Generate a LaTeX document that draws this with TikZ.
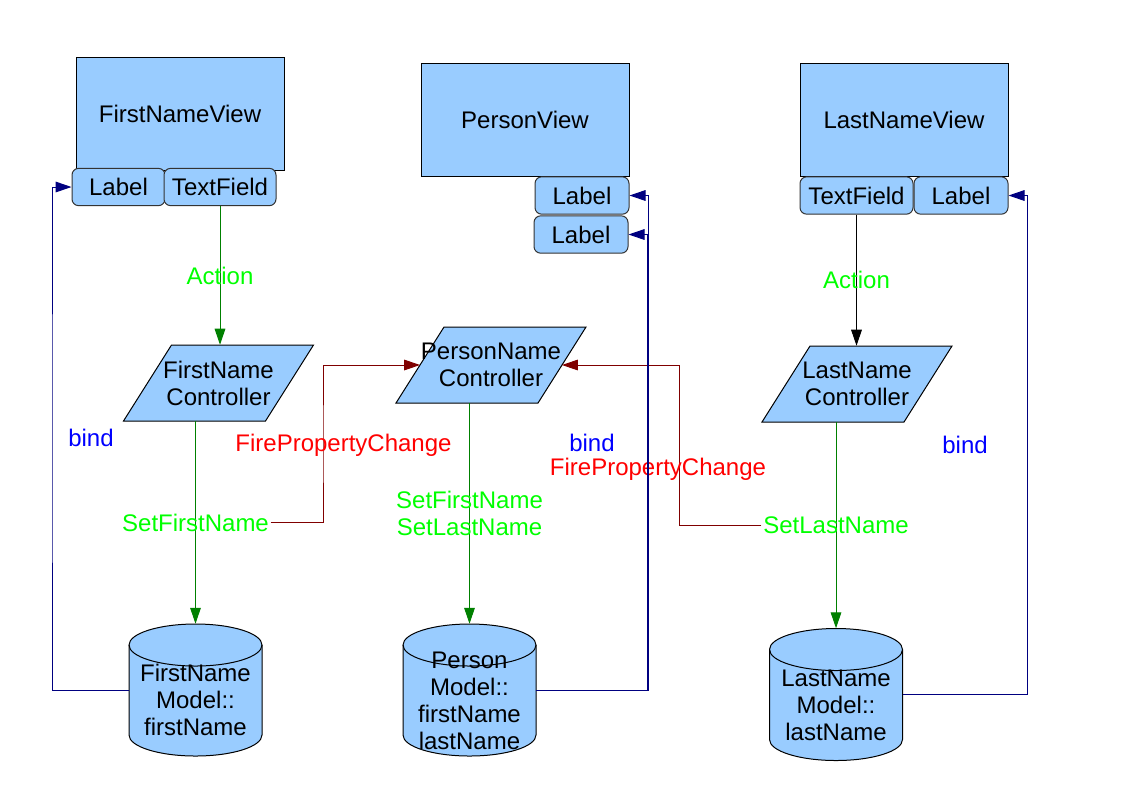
\documentclass[tikz,border=0pt]{standalone}
\usepackage{fontspec}
\setmainfont{Liberation Sans}
\usetikzlibrary{arrows.meta}
\definecolor{boxfill}{RGB}{153,204,255}
\definecolor{dgreen}{RGB}{0,128,0}
\definecolor{lgreen}{RGB}{0,255,0}
\definecolor{navyline}{RGB}{0,0,128}
\definecolor{dred}{RGB}{128,0,0}
\definecolor{bred}{RGB}{255,0,0}
\definecolor{bblue}{RGB}{0,0,255}
\newcommand{\ctlshape}[4]{%
  \filldraw[shp] (#2-95,#3+38) -- (#2+47,#3+38) -- (#2+95,#3-38) -- (#2-47,#3-38) -- cycle;
  \node[ctltext] (#1) at (#2,#3) {#4};
}
\newcommand{\cylshape}[3]{%
  \filldraw[shp] (#2-66.5,#3-45) -- (#2-66.5,#3+45)
    arc[start angle=180,end angle=360,x radius=49.875pt,y radius=15.75pt]
    -- (#2+66.5,#3-45)
    arc[start angle=0,end angle=180,x radius=49.875pt,y radius=15.75pt] -- cycle;
  \draw[shp,fill=none] (#2-66.5,#3-45)
    arc[start angle=180,end angle=360,x radius=49.875pt,y radius=15.75pt];
  \node[cylbox] (#1) at (#2,#3) {};
}
\begin{document}
\begin{tikzpicture}[x=0.75pt,y=-0.75pt,
  font=\fontsize{18}{20.25}\selectfont,
  viewbox/.style={draw=black, fill=boxfill, line width=0.75pt, minimum width=156pt, minimum height=84.75pt, inner sep=0},
  widget/.style={draw=black!80, fill=boxfill, rounded corners=5pt, line width=0.75pt, minimum height=28pt, inner sep=0},
  shp/.style={draw=black, fill=boxfill, line width=0.75pt},
  ctltext/.style={minimum width=106pt, minimum height=57pt, inner sep=0, align=center},
  cylbox/.style={minimum width=99.75pt, minimum height=99pt, inner sep=0},
  cyltext/.style={align=center, inner sep=0},
  conn/.style={line width=0.75pt, -{Triangle[length=12pt,width=8pt]}},
  plain/.style={line width=0.75pt},
  glabel/.style={text=lgreen, inner sep=1pt, align=center},
  rlabel/.style={text=bred, inner sep=1pt},
  blabel/.style={text=bblue, inner sep=1pt}
]
\useasboundingbox[fill=white] (0,0) rectangle (1123,794);

% views
\node[viewbox] (v1) at (180,113.5) {FirstNameView};
\node[viewbox] (v2) at (525,119.5) {PersonView};
\node[viewbox] (v3) at (904,119.5) {LastNameView};

% widgets
\node[widget, minimum width=69.75pt] (w1) at (118.5,187) {Label};
\node[widget, minimum width=84pt] (w2) at (220,187) {TextField};
\node[widget, minimum width=70.5pt] (p1) at (582,195.5) {Label};
\node[widget, minimum width=70.5pt] (p2) at (581,234.5) {Label};
\node[widget, minimum width=84.75pt] (w3) at (856.5,195.5) {TextField};
\node[widget, minimum width=70.5pt] (w4) at (961,195.5) {Label};

% controllers
\ctlshape{c1}{218.5}{383}{FirstName\\Controller}
\ctlshape{c2}{491}{365}{PersonName\\Controller}
\ctlshape{c3}{857}{384}{LastName\\Controller}

% models
\cylshape{m1}{195.5}{690}
\cylshape{m2}{469.5}{690}
\cylshape{m3}{836}{694.5}
\node[cyltext] (m1t) at (195.5,700) {FirstName\\Model::\\firstName};
\node[cyltext] (m2t) at (469.5,700.5) {Person\\Model::\\firstName\\lastName};
\node[cyltext] (m3t) at (836,705) {LastName\\Model::\\lastName};

% actions
\draw[conn, dgreen] (w2.south) -- (w2.south |- c1.north) node[midway, glabel] (a1) {Action};
\draw[conn, black] (w3.south) -- (w3.south |- c3.north) node[midway, glabel] (a2) {Action};

% setters
\draw[conn, dgreen] (m1.north |- c1.south) -- (m1.north) node[midway, glabel] (s1) {SetFirstName};
\draw[conn, dgreen] (m2.north |- c2.south) -- (m2.north) node[midway, glabel] (s2) {SetFirstName\\SetLastName};
\draw[conn, dgreen] (m3.north |- c3.south) -- (m3.north) node[midway, glabel] (s3) {SetLastName};

% fire property change
\coordinate (j1) at (323,444);
\coordinate (j2) at (679,442);
\draw[conn, dred] (s1.east) -| (j1) |- (c2.west);
\draw[conn, dred] (s3.west) -| (j2) |- (c2.east);
\node[rlabel] (f1) at (343.5,445) {FirePropertyChange};
\node[rlabel] (f2) at (658,469) {FirePropertyChange};

% binds
\coordinate (k1) at (52,438);
\coordinate (k2) at (648.5,443);
\coordinate (k2b) at (647,443);
\coordinate (k3) at (1027,445);
\draw[conn, navyline] (m1.west) -| (k1) |- (w1.west);
\draw[conn, navyline] (m2.east) -| (k2) |- (p1.east);
\draw[conn, navyline] (m2.east) -| (k2b) |- (p2.east);
\draw[conn, navyline] (m3.east) -| (k3) |- (w4.east);
\node[blabel] (b1) at (91,438) {bind};
\node[blabel] (b2) at (592,443) {bind};
\node[blabel] (b3) at (965,445) {bind};
\end{tikzpicture}
\end{document}
